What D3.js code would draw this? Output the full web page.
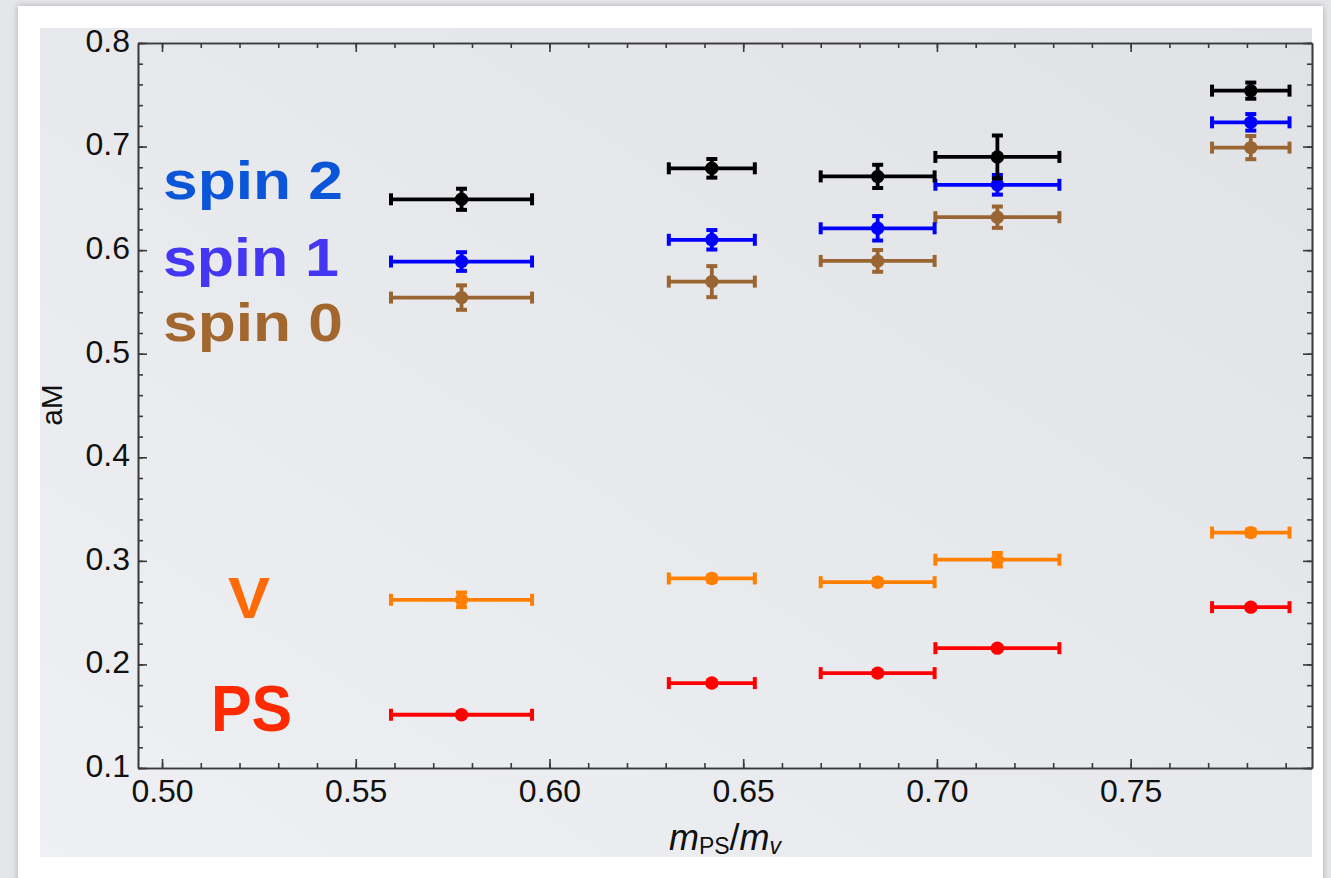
<!DOCTYPE html>
<meta charset="utf-8">
<style>
  body { margin: 0; background: #e5e6e9; }
  svg { display: block; font-family: "Liberation Sans", Arial, sans-serif; }
</style>
<svg width="1331" height="878"></svg>

<script src="https://cdn.jsdelivr.net/npm/d3@7"></script>
<script>

// x positions (m_PS/m_v) and their horizontal errors, shared by all series
var xVals = [0.5773, 0.6419, 0.6847, 0.7156, 0.7810]
var xErrs = [0.0182, 0.0111, 0.0147, 0.0160, 0.0100]

// aM values per channel, with vertical errors
var ps     = [0.1514, 0.1820, 0.1916, 0.2157, 0.2553]
var psErr  = [0.002, 0.002, 0.002, 0.002, 0.002]
var vec    = [0.2624, 0.2830, 0.2794, 0.3011, 0.3273]
var vecErr = [0.007, 0.003, 0.003, 0.0065, 0.003]
var spin0    = [0.5542, 0.5696, 0.5896, 0.6318, 0.6990]
var spin0Err = [0.0118, 0.0150, 0.0105, 0.0103, 0.0112]
var spin1    = [0.5890, 0.6100, 0.6211, 0.6631, 0.7234]
var spin1Err = [0.0090, 0.0094, 0.0118, 0.0095, 0.0080]
var spin2    = [0.6491, 0.6790, 0.6712, 0.6900, 0.7540]
var spin2Err = [0.0102, 0.0090, 0.0112, 0.0207, 0.0078]

var xTicks = [0.50, 0.55, 0.60, 0.65, 0.70, 0.75]
var yTicks = [0.1, 0.2, 0.3, 0.4, 0.5, 0.6, 0.7, 0.8]

// series in drawing order (last one ends on top)
var series = [
  { name: "PS", values: ps, errs: psErr, color: "#ff0000" },
  { name: "V", values: vec, errs: vecErr, color: "#ff8000" },
  { name: "spin 0", values: spin0, errs: spin0Err, color: "#996633" },
  { name: "spin 1", values: spin1, errs: spin1Err, color: "#0000ff" },
  { name: "spin 2", values: spin2, errs: spin2Err, color: "#000000" }
]

// big coloured labels written inside the plot
var labels = [
  { text: "spin 2", color: "#0a55d8", x: 163, y: 199, size: 53, len: 180 },
  { text: "spin 1", color: "#4436f2", x: 163, y: 276, size: 53, len: 176 },
  { text: "spin 0", color: "#a2672f", x: 163, y: 341, size: 53, len: 180 },
  { text: "V", color: "#ff6a08", x: 228, y: 618, size: 58, len: 42 },
  { text: "PS", color: "#ff2a00", x: 211, y: 731, size: 64, len: 81 }
]

var svg = d3.select("svg")
var plotLeft = 138, plotRight = 1312, plotTop = 43, plotBottom = 768

var x = d3.scaleLinear().domain([0.4938, 0.7968]).range([plotLeft, plotRight])
var y = d3.scaleLinear().domain([0.1, 0.8]).range([plotBottom, plotTop])

// backdrop: white card with a soft shadow, grey panel inside
var defs = svg.append("defs")
var shadow = defs.append("filter").attr("id", "shadow")
  .attr("x", "-5%").attr("y", "-5%").attr("width", "110%").attr("height", "110%")
shadow.append("feDropShadow").attr("dx", 0).attr("dy", 0)
  .attr("stdDeviation", 3).attr("flood-color", "#9a9b9e").attr("flood-opacity", 0.8)
var grad = defs.append("linearGradient").attr("id", "panel")
  .attr("x1", 0).attr("y1", 1).attr("x2", 1).attr("y2", 0)
grad.append("stop").attr("offset", 0).attr("stop-color", "#eff0f3")
grad.append("stop").attr("offset", 1).attr("stop-color", "#e0e2e6")

svg.append("rect").attr("x", 18).attr("y", 6).attr("width", 1305).attr("height", 880)
  .attr("fill", "#fff").attr("filter", "url(#shadow)")
svg.append("rect").attr("x", 40).attr("y", 28).attr("width", plotRight - 40).attr("height", 829)
  .attr("fill", "url(#panel)")

// frame axes with inward ticks
var minorX = d3.range(50, 80).map(function (d) { return d / 100 })
var minorY = d3.range(5, 41).map(function (d) { return d / 50 })

function styleAxis(g) {
  g.selectAll("path, line").attr("stroke", "#3a3a3a").attr("stroke-width", 1.6)
  g.selectAll("text").attr("fill", "#111").style("font-size", "32px")
    .style("font-family", "'Liberation Sans', Arial, sans-serif")
}

svg.append("g").attr("transform", "translate(0," + plotBottom + ")")
  .call(d3.axisBottom(x).tickValues(minorX).tickSize(-5).tickSizeOuter(0).tickFormat(""))
  .call(styleAxis)
svg.append("g").attr("transform", "translate(0," + plotBottom + ")")
  .call(d3.axisBottom(x).tickValues(xTicks).tickSize(-9).tickSizeOuter(0)
    .tickPadding(11).tickFormat(d3.format(".2f")))
  .call(styleAxis)

svg.append("g").attr("transform", "translate(0," + plotTop + ")")
  .call(d3.axisTop(x).tickValues(minorX).tickSize(-5).tickSizeOuter(0).tickFormat(""))
  .call(styleAxis)
svg.append("g").attr("transform", "translate(0," + plotTop + ")")
  .call(d3.axisTop(x).tickValues(xTicks).tickSize(-9).tickSizeOuter(0).tickFormat(""))
  .call(styleAxis)

svg.append("g").attr("transform", "translate(" + plotLeft + ",0)")
  .call(d3.axisLeft(y).tickValues(minorY).tickSize(-5).tickSizeOuter(0).tickFormat(""))
  .call(styleAxis)
svg.append("g").attr("transform", "translate(" + plotLeft + ",0)")
  .call(d3.axisLeft(y).tickValues(yTicks).tickSize(-9).tickSizeOuter(0)
    .tickPadding(8).tickFormat(d3.format(".1f")))
  .call(styleAxis)
  .selectAll("text").attr("dy", "0.26em")

svg.append("g").attr("transform", "translate(" + plotRight + ",0)")
  .call(d3.axisRight(y).tickValues(minorY).tickSize(-5).tickSizeOuter(0).tickFormat(""))
  .call(styleAxis)
svg.append("g").attr("transform", "translate(" + plotRight + ",0)")
  .call(d3.axisRight(y).tickValues(yTicks).tickSize(-9).tickSizeOuter(0).tickFormat(""))
  .call(styleAxis)

// axis titles
var xTitle = svg.append("text").attr("x", 725).attr("y", 850)
  .attr("text-anchor", "middle").attr("fill", "#111")
xTitle.append("tspan").text("m").style("font-style", "italic").style("font-size", "36px")
xTitle.append("tspan").text("PS").style("font-size", "23px").attr("dy", 4)
xTitle.append("tspan").text("/").style("font-size", "36px").attr("dy", -4)
xTitle.append("tspan").text("m").style("font-style", "italic").style("font-size", "36px")
xTitle.append("tspan").text("v").style("font-style", "italic").style("font-size", "23px").attr("dy", 4)

svg.append("text").attr("transform", "translate(62,405) rotate(-90)")
  .attr("text-anchor", "middle").attr("fill", "#111")
  .style("font-size", "30px").text("aM")

// error bars and points
var plot = svg.append("g")
series.forEach(function (s) {
  var g = plot.append("g").attr("stroke", s.color).attr("fill", s.color)
  var pts = s.values.map(function (v, i) {
    return { x: xVals[i], dx: xErrs[i], y: v, dy: s.errs[i] }
  })
  var item = g.selectAll("g").data(pts).enter().append("g")

  // horizontal bar with end caps
  item.append("line").attr("stroke-width", 3.8)
    .attr("x1", function (d) { return x(d.x - d.dx) })
    .attr("x2", function (d) { return x(d.x + d.dx) })
    .attr("y1", function (d) { return y(d.y) })
    .attr("y2", function (d) { return y(d.y) })
  item.selectAll(".hcap").data(function (d) { return [d.x - d.dx, d.x + d.dx].map(function (e) { return { x: e, y: d.y } }) })
    .enter().append("line").attr("stroke-width", 4)
    .attr("x1", function (d) { return x(d.x) }).attr("x2", function (d) { return x(d.x) })
    .attr("y1", function (d) { return y(d.y) - 6 }).attr("y2", function (d) { return y(d.y) + 6 })

  // vertical bar with caps
  item.append("line").attr("stroke-width", 3.8)
    .attr("x1", function (d) { return x(d.x) }).attr("x2", function (d) { return x(d.x) })
    .attr("y1", function (d) { return y(d.y - d.dy) })
    .attr("y2", function (d) { return y(d.y + d.dy) })
  item.selectAll(".vcap").data(function (d) { return [d.y - d.dy, d.y + d.dy].map(function (e) { return { x: d.x, y: e } }) })
    .enter().append("line").attr("stroke-width", 4)
    .attr("x1", function (d) { return x(d.x) - 5.5 }).attr("x2", function (d) { return x(d.x) + 5.5 })
    .attr("y1", function (d) { return y(d.y) }).attr("y2", function (d) { return y(d.y) })

  item.append("circle").attr("stroke", "none").attr("r", 6.7)
    .attr("cx", function (d) { return x(d.x) })
    .attr("cy", function (d) { return y(d.y) })
})

// coloured channel labels
svg.append("g").selectAll("text").data(labels).enter().append("text")
  .attr("x", function (d) { return d.x })
  .attr("y", function (d) { return d.y })
  .attr("fill", function (d) { return d.color })
  .attr("textLength", function (d) { return d.len })
  .attr("lengthAdjust", "spacingAndGlyphs")
  .style("font-size", function (d) { return d.size + "px" })
  .style("font-weight", "bold")
  .text(function (d) { return d.text })

</script>
